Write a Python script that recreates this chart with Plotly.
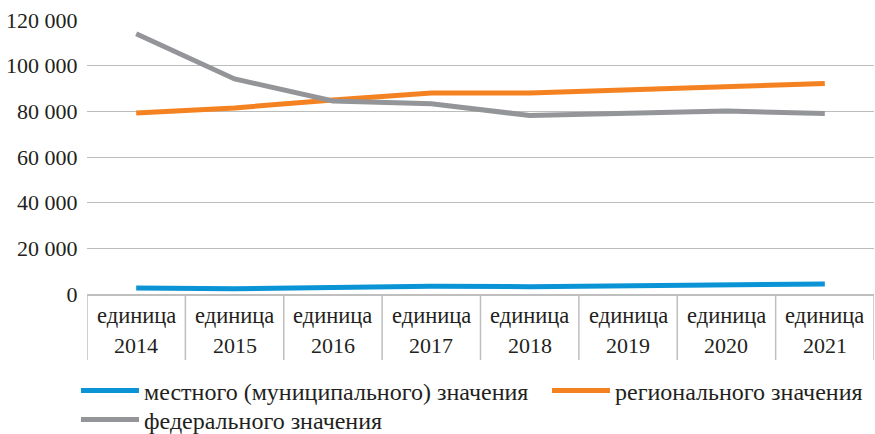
import plotly.graph_objects as go

years = ["2014", "2015", "2016", "2017", "2018", "2019", "2020", "2021"]
unit_label = "единица"
local_vals = [2600, 2300, 2900, 3400, 3200, 3500, 3900, 4400]
regional_vals = [79300, 81500, 85000, 88000, 88000, 89500, 91000, 92200]
federal_vals = [114000, 94200, 84500, 83300, 78200, 79000, 80100, 79000]
series_names = ["местного (муниципального) значения", "регионального значения", "федерального значения"]
colors = ["#0a94d6", "#f58220", "#939598"]
legend_ids = ["legend", "legend2", "legend3"]

font_family = "Liberation Serif"
text_color = "#231f20"

fig = go.Figure()
for name, vals, col, lg in zip(series_names, [local_vals, regional_vals, federal_vals], colors, legend_ids):
    fig.add_trace(go.Scatter(x=years, y=vals, name=name, mode="lines", legend=lg,
                             showlegend=True, line=dict(color=col, width=5)))

shapes = []
for i in range(len(years) + 1):
    shapes.append(dict(type="line", xref="x", yref="paper", x0=i - 0.5, x1=i - 0.5,
                       y0=0, y1=-0.241, line=dict(color="#bfbfbf", width=1.5)))

annotations = []
for i, yr in enumerate(years):
    annotations.append(dict(x=i, xref="x", yref="paper", y=-0.080, text=unit_label,
                            showarrow=False, yanchor="middle",
                            font=dict(family=font_family, size=22.5, color=text_color)))
    annotations.append(dict(x=i, xref="x", yref="paper", y=-0.188, text=yr,
                            showarrow=False, yanchor="middle",
                            font=dict(family=font_family, size=22, color=text_color)))

legend_common = dict(orientation="h", xref="container", yref="container", xanchor="left",
                     yanchor="middle", font=dict(family=font_family, size=24, color=text_color),
                     itemwidth=58, bgcolor="rgba(0,0,0,0)", visible=True)

fig.update_layout(
    width=875, height=434,
    showlegend=True,
    margin=dict(l=87, r=1, t=20, b=140, autoexpand=False),
    paper_bgcolor="white", plot_bgcolor="white",
    font=dict(family=font_family, color=text_color),
    xaxis=dict(type="category", range=[-0.5, len(years) - 0.5], showticklabels=False,
               showgrid=False, showline=True, linecolor="#bfbfbf", linewidth=1.5,
               ticks="", zeroline=False, fixedrange=True),
    yaxis=dict(range=[0, 120000], dtick=20000, tickformat=",d",
               showgrid=True, gridcolor="#bcbcbc", gridwidth=1.2, zeroline=False,
               showline=False, ticks="outside", ticklen=4, tickcolor="rgba(0,0,0,0)",
               tickfont=dict(family=font_family, size=22, color=text_color)),
    separators=". ",
    legend=dict(legend_common, x=76 / 875, y=1 - 391 / 434),
    legend2=dict(legend_common, x=547 / 875, y=1 - 391 / 434),
    legend3=dict(legend_common, x=76 / 875, y=1 - 420 / 434),
    shapes=shapes, annotations=annotations,
)

fig.write_html("out.html")
